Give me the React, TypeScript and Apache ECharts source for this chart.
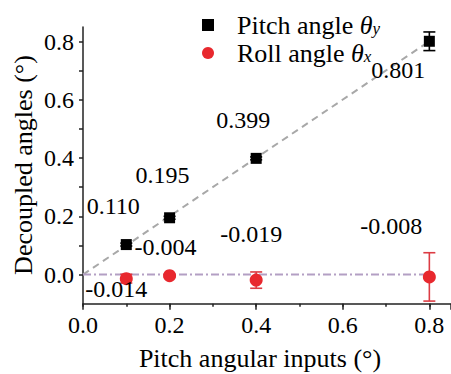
import React, { useEffect, useRef } from "react";
import * as echarts from "echarts";

const xValues = [0.1, 0.2, 0.4, 0.8];
const pitchValues = [0.103, 0.195, 0.399, 0.801];
const pitchLabels = ["0.110", "0.195", "0.399", "0.801"];
const pitchErrors = [0.005, 0.005, 0.005, 0.032];
const rollValues = [-0.014, -0.004, -0.019, -0.008];
const rollLabels = ["-0.014", "-0.004", "-0.019", "-0.008"];
const rollErrors = [0.015, 0.004, 0.028, 0.083];
const fitX = [0, 0.8];
const pitchFit = [0, 0.801];
const rollFit = [0, 0];

const pitchLabelOffsets = [[-13, -39], [-7, -43], [-13, -38], [-31, 29]];
const rollLabelOffsets = [[-10, 10], [-4, -29], [-5, -46], [-38, -51]];

const FONT = "'Liberation Serif', 'Times New Roman', serif";
const RED = "#e8282e";
const RED_BAR = "#dc3c44";

function errorSeries(vals: number[], errs: number[], color: string) {
  return {
    type: "custom",
    xAxisIndex: 0,
    yAxisIndex: 0,
    z: 3,
    data: xValues.map((x, i) => [x, vals[i], errs[i]]),
    encode: { x: 0, y: 1 },
    renderItem: (params: any, api: any) => {
      const x = api.value(0);
      const y = api.value(1);
      const e = api.value(2);
      const top = api.coord([x, y + e]);
      const bot = api.coord([x, y - e]);
      const hw = 6;
      const style = { stroke: color, lineWidth: 1.6 };
      return {
        type: "group",
        children: [
          { type: "line", shape: { x1: top[0], y1: top[1], x2: bot[0], y2: bot[1] }, style },
          { type: "line", shape: { x1: top[0] - hw, y1: top[1], x2: top[0] + hw, y2: top[1] }, style },
          { type: "line", shape: { x1: bot[0] - hw, y1: bot[1], x2: bot[0] + hw, y2: bot[1] }, style },
        ],
      };
    },
  };
}

const tickText = { fontFamily: FONT, fontSize: 24, color: "#000" };
const dataText = { fontFamily: FONT, fontSize: 24, color: "#000", lineHeight: 19 };

export default function App() {
  const ref = useRef<HTMLDivElement>(null);
  useEffect(() => {
    if (!ref.current) return;
    const chart = echarts.init(ref.current, undefined, { renderer: "svg" });
    const evenLabel = (v: number) => {
      const t = v * 10;
      const r = Math.round(t);
      if (Math.abs(t - r) > 1e-6) return "";
      if (r < 0 || r % 2 !== 0) return "";
      return "{v|" + v.toFixed(1) + "}";
    };
    const labelBase = {
      show: true,
      position: "inside",
      fontFamily: FONT,
      fontSize: 24,
      color: "#000",
      align: "center",
      verticalAlign: "middle",
      rich: { v: dataText },
    };
    const option: any = {
      animation: false,
      backgroundColor: "#fff",
      textStyle: { fontFamily: FONT },
      grid: { left: 83, top: 27, width: 374, height: 276.7 },
      legend: {
        orient: "vertical",
        left: 197,
        top: 7,
        itemWidth: 12,
        itemHeight: 12,
        itemGap: 2,
        data: [
          { name: "Pitch", icon: "rect", itemStyle: { color: "#000" } },
          { name: "Roll", icon: "circle", itemStyle: { color: RED } },
        ],
        formatter: (name: string) =>
          name === "Pitch"
            ? "{a|Pitch angle }{i|θ}{s|y}"
            : "{a|Roll angle }{i|θ}{s|x}",
        textStyle: {
          fontFamily: FONT,
          rich: {
            a: { fontFamily: FONT, fontSize: 26, color: "#000", lineHeight: 23, padding: [0, 0, 0, 18] },
            i: { fontFamily: FONT, fontSize: 26, fontStyle: "italic", color: "#000", lineHeight: 23 },
            s: { fontFamily: FONT, fontSize: 17, fontStyle: "italic", color: "#000", lineHeight: 14, verticalAlign: "bottom" },
          },
        },
      },
      xAxis: [
        {
          type: "value",
          position: "bottom",
          min: 0,
          max: 0.85,
          interval: 0.1,
          axisLine: { show: true, onZero: false, lineStyle: { color: "#222", width: 1.5 } },
          axisTick: { show: true, length: 3, lineStyle: { color: "#222", width: 1.5 } },
          axisLabel: {
            formatter: evenLabel,
            fontFamily: FONT,
            fontSize: 24,
            color: "#000",
            margin: 9,
            showMaxLabel: false,
            rich: { v: tickText },
          },
          splitLine: { show: false },
        },
        {
          type: "value",
          position: "bottom",
          min: 0,
          max: 0.85,
          interval: 0.2,
          axisLine: { show: false, onZero: false },
          axisTick: { show: true, length: 6, lineStyle: { color: "#222", width: 1.5 } },
          axisLabel: { show: false },
          splitLine: { show: false },
        },
      ],
      yAxis: {
        type: "value",
        min: -0.1,
        max: 0.85,
        interval: 0.1,
        axisLine: { show: true, onZero: false, lineStyle: { color: "#222", width: 1.5 } },
        axisTick: { show: true, length: 4, lineStyle: { color: "#222", width: 1.5 } },
        axisLabel: {
          formatter: evenLabel,
          fontFamily: FONT,
          fontSize: 24,
          color: "#000",
          margin: 9,
          showMinLabel: false,
          showMaxLabel: false,
          rich: { v: tickText },
        },
        splitLine: { show: false },
      },
      graphic: [
        {
          type: "text",
          x: 260,
          y: 358,
          style: {
            text: "Pitch angular inputs (°)",
            font: `26px ${FONT}`,
            fill: "#000",
            align: "center",
            verticalAlign: "middle",
            textAlign: "center",
            textVerticalAlign: "middle",
          },
        },
        {
          type: "text",
          x: 23,
          y: 165,
          rotation: Math.PI / 2,
          style: {
            text: "Decoupled angles (°)",
            font: `26px ${FONT}`,
            fill: "#000",
            align: "center",
            verticalAlign: "middle",
            textAlign: "center",
            textVerticalAlign: "middle",
          },
        },
      ],
      series: [
        {
          name: "pitchFit",
          type: "line",
          data: fitX.map((x, i) => [x, pitchFit[i]]),
          symbol: "none",
          lineStyle: { color: "#a8a8a8", width: 2, type: [7, 5] },
          z: 1,
          silent: true,
        },
        {
          name: "rollFit",
          type: "line",
          data: fitX.map((x, i) => [x, rollFit[i]]),
          symbol: "none",
          lineStyle: { color: "#b39fc4", width: 2, type: [8, 3, 2, 3] },
          z: 1,
          silent: true,
        },
        errorSeries(pitchValues, pitchErrors, "#000"),
        errorSeries(rollValues, rollErrors, RED_BAR),
        {
          name: "Pitch",
          type: "scatter",
          symbol: "rect",
          symbolSize: 11,
          itemStyle: { color: "#000", opacity: 1 },
          z: 4,
          data: xValues.map((x, i) => ({
            value: [x, pitchValues[i]],
            label: { ...labelBase, offset: pitchLabelOffsets[i], formatter: "{v|" + pitchLabels[i] + "}" },
          })),
          label: labelBase,
        },
        {
          name: "Roll",
          type: "scatter",
          symbol: "circle",
          symbolSize: 13,
          itemStyle: { color: RED, opacity: 1 },
          z: 4,
          data: xValues.map((x, i) => ({
            value: [x, rollValues[i]],
            label: { ...labelBase, offset: rollLabelOffsets[i], formatter: "{v|" + rollLabels[i] + "}" },
          })),
          label: labelBase,
        },
      ],
    };
    chart.setOption(option);
    return () => chart.dispose();
  }, []);
  return (
    <div
      ref={ref}
      style={{ position: "fixed", left: 0, top: 0, width: 451, height: 374, background: "#fff" }}
    />
  );
}
